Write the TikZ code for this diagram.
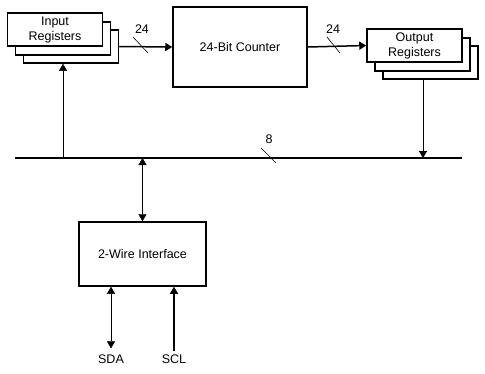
\documentclass[tikz,border=0pt]{standalone}
\usepackage{fontspec}
\setmainfont{Liberation Sans}
\usetikzlibrary{arrows.meta}

\begin{document}
\begin{tikzpicture}[x=1pt, y=-1pt,
       >/.tip = {Triangle[length=7pt, width=8pt]},
     blk/.style = {draw, line width=1.5pt, fill=white, inner sep=0pt,
                   align=center, font=\fontsize{12.5}{14}\selectfont},
     reg/.style = {blk, minimum width=95pt, minimum height=33pt},
    tick/.style = {line width=0.6pt},
     lbl/.style = {inner sep=1pt, font=\fontsize{12.5}{14}\selectfont}
                        ]
    \useasboundingbox (0,0) rectangle (485,373);

    % Input registers (stack of three)
    \node (in3) at (71, 46.5) [reg] {};
    \node (in2) at (63, 38.5) [reg] {};
    \node (in1) at (55, 29.5) [reg] {Input\\[1pt]Registers};

    % Counter
    \node (cnt) at (240, 47) [blk, minimum width=134pt, minimum height=80pt]
          {24-Bit Counter};

    % Output registers (stack of three)
    \node (out3) at (430.5, 62.5) [reg] {};
    \node (out2) at (422.5, 54.5) [reg] {};
    \node (out1) at (414.5, 45.5) [reg] {Output\\[1pt]Registers};

    % 2-wire interface
    \node (ifc) at (142.5, 254) [blk, minimum width=127pt, minimum height=64pt]
          {2-Wire Interface};

    % Bus
    \coordinate (busL) at (15, 158);
    \coordinate (busR) at (462, 158);
    \coordinate (tapIn) at (63, 158);
    \coordinate (tapOut) at (423, 158);
    \draw[line width=1.5pt] (busL) -- (busR);

    % Bus widths
    \node (w1) at (142, 29) [lbl] {24};
    \node (w2) at (333, 29) [lbl] {24};
    \node (w3) at (269, 139) [lbl] {8};
    \draw[tick] (133, 37) -- (148, 53);
    \draw[tick] (327, 37) -- (340, 53);
    \draw[tick] (261, 148) -- (276, 163);

    % Pins
    \node (sda) at (111, 359) [lbl] {SDA};
    \node (scl) at (174, 359) [lbl] {SCL};

    \draw[->, line width=1.5pt] (in3.east) -- (cnt.west);
    \draw[->, line width=1.5pt] (cnt.east) -- (out1.west);

    \draw[->] (tapIn) -- (tapIn |- in3.south);
    \draw[->] (tapOut |- out3.south) -- (tapOut);
    \draw[<->] (ifc.north |- busL) -- (ifc.north);

    \draw[<->] ([yshift=5pt]sda.north) -- (sda.north |- ifc.south);
    \draw[->, line width=1.2pt] ([yshift=2pt]scl.north) -- (scl.north |- ifc.south);
\end{tikzpicture}
\end{document}
